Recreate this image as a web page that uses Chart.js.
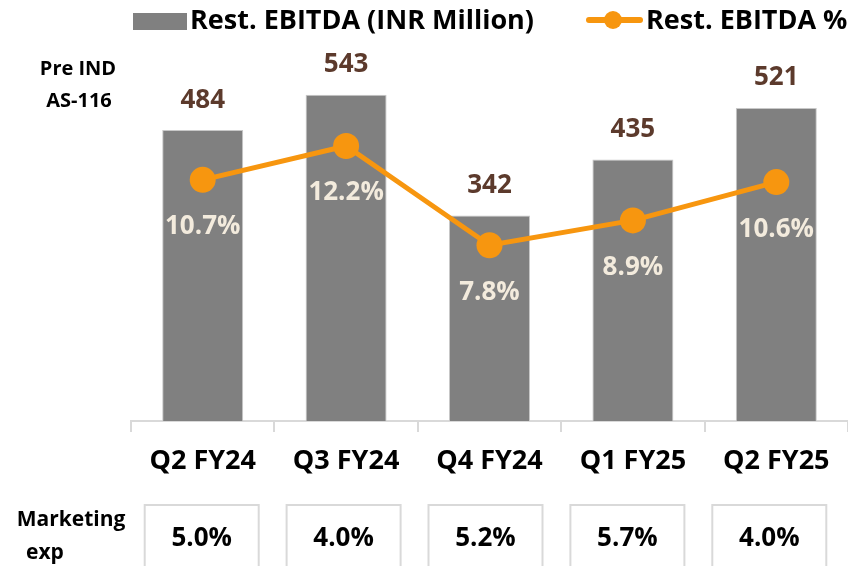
<!DOCTYPE html>
<html>
<head>
<meta charset="utf-8">
<script src="https://cdn.jsdelivr.net/npm/chart.js@4"></script>
<style>
html,body{margin:0;padding:0;background:#fff;overflow:hidden;}
#wrap{width:848px;height:566px;position:relative;}
canvas{display:block;}
</style>
</head>
<body>
<div id="wrap"><canvas id="c" width="848" height="566"></canvas></div>
<script>
const categories = ['Q2 FY24', 'Q3 FY24', 'Q4 FY24', 'Q1 FY25', 'Q2 FY25'];
const ebitda = [484, 543, 342, 435, 521];
const ebitdaPct = [10.7, 12.2, 7.8, 8.9, 10.6];
const marketingExp = [5.0, 4.0, 5.2, 5.7, 4.0];
const barLabel = 'Rest. EBITDA (INR Million)';
const lineLabel = 'Rest. EBITDA %';
const sideNote = ['Pre IND', 'AS-116'];
const rowTitle = ['Marketing', 'exp'];

const FONT = '"Open Sans", Lato, "DejaVu Sans", sans-serif';
const GRAY = '#808080';
const ORANGE = '#F7960F';
const BROWN = '#5C3A2C';
const CREAM = '#F3EBDD';
const LIGHT = '#D9D9D9';

const decor = {
  id: 'decor',
  afterDatasetsDraw(chart) {
    const ctx = chart.ctx;
    const barMeta = chart.getDatasetMeta(0);
    const lineMeta = chart.getDatasetMeta(1);
    ctx.save();
    ctx.textAlign = 'center';
    ctx.textBaseline = 'middle';
    ctx.font = 'bold 26px ' + FONT;
    ctx.fillStyle = BROWN;
    barMeta.data.forEach((el, i) => {
      ctx.fillText(String(ebitda[i]), el.x, el.y - 30);
    });
    ctx.fillStyle = CREAM;
    lineMeta.data.forEach((el, i) => {
      ctx.fillText(ebitdaPct[i].toFixed(1) + '%', el.x, el.y + 47);
    });
    ctx.restore();
  },
  afterDraw(chart) {
    const ctx = chart.ctx;
    const xs = chart.scales.x;
    ctx.save();
    ctx.fillStyle = GRAY;
    ctx.fillRect(133, 13, 54, 17);
    ctx.font = 'bold 27px ' + FONT;
    ctx.fillStyle = '#000';
    ctx.textAlign = 'left';
    ctx.textBaseline = 'middle';
    ctx.fillText(barLabel, 190, 21);
    ctx.strokeStyle = ORANGE;
    ctx.lineWidth = 6;
    ctx.lineCap = 'round';
    ctx.beginPath();
    ctx.moveTo(589, 20);
    ctx.lineTo(640, 20);
    ctx.stroke();
    ctx.fillStyle = ORANGE;
    ctx.beginPath();
    ctx.arc(613, 20, 9, 0, Math.PI * 2);
    ctx.fill();
    ctx.fillStyle = '#000';
    ctx.fillText(lineLabel, 646, 21);
    ctx.textAlign = 'center';
    ctx.font = 'bold 20px ' + FONT;
    ctx.fillText(sideNote[0], 78, 69);
    ctx.fillText(sideNote[1], 79, 101);
    ctx.font = 'bold 21px ' + FONT;
    ctx.fillText(rowTitle[0], 71, 520);
    ctx.textAlign = 'left';
    ctx.fillText(rowTitle[1], 26, 553);
    ctx.textAlign = 'center';
    ctx.strokeStyle = LIGHT;
    ctx.lineWidth = 2;
    ctx.font = 'bold 26px ' + FONT;
    marketingExp.forEach((v, i) => {
      const cx = xs.getPixelForValue(i) - 1 - 1.5 * i;
      ctx.strokeRect(cx - 57, 505, 114, 80);
      ctx.fillStyle = '#000';
      ctx.fillText(v.toFixed(1) + '%', cx, 539);
    });
    ctx.restore();
  }
};

new Chart(document.getElementById('c'), {
  type: 'bar',
  data: {
    labels: categories,
    datasets: [
      {
        type: 'bar',
        label: barLabel,
        data: ebitda,
        backgroundColor: GRAY,
        borderColor: '#C8C8C8',
        borderWidth: 1,
        barPercentage: 0.565,
        categoryPercentage: 1,
        yAxisID: 'y',
        order: 1
      },
      {
        type: 'line',
        label: lineLabel,
        data: ebitdaPct,
        borderColor: ORANGE,
        backgroundColor: ORANGE,
        borderWidth: 5,
        pointRadius: 13,
        pointBackgroundColor: ORANGE,
        pointBorderWidth: 0,
        tension: 0,
        clip: false,
        yAxisID: 'y1',
        order: 0
      }
    ]
  },
  options: {
    responsive: false,
    animation: false,
    events: [],
    layout: { autoPadding: false, padding: { left: 131, right: 0, top: 60.4, bottom: 0 } },
    plugins: { legend: { display: false }, tooltip: { enabled: false } },
    scales: {
      x: {
        offset: true,
        grid: { display: true, drawOnChartArea: false, offset: true, tickLength: 11, color: LIGHT, lineWidth: 2 },
        border: { display: true, color: LIGHT, width: 2 },
        ticks: { color: '#000', font: { family: FONT, size: 27, weight: 'bold' }, padding: 13, maxRotation: 0 },
        afterFit(scale) { scale.height = 145; scale.paddingLeft = 0; scale.paddingRight = 0; }
      },
      y: { display: false, min: 0, max: 600 },
      y1: { display: false, min: 0, max: 16 }
    }
  },
  plugins: [decor]
});
</script>
</body>
</html>
